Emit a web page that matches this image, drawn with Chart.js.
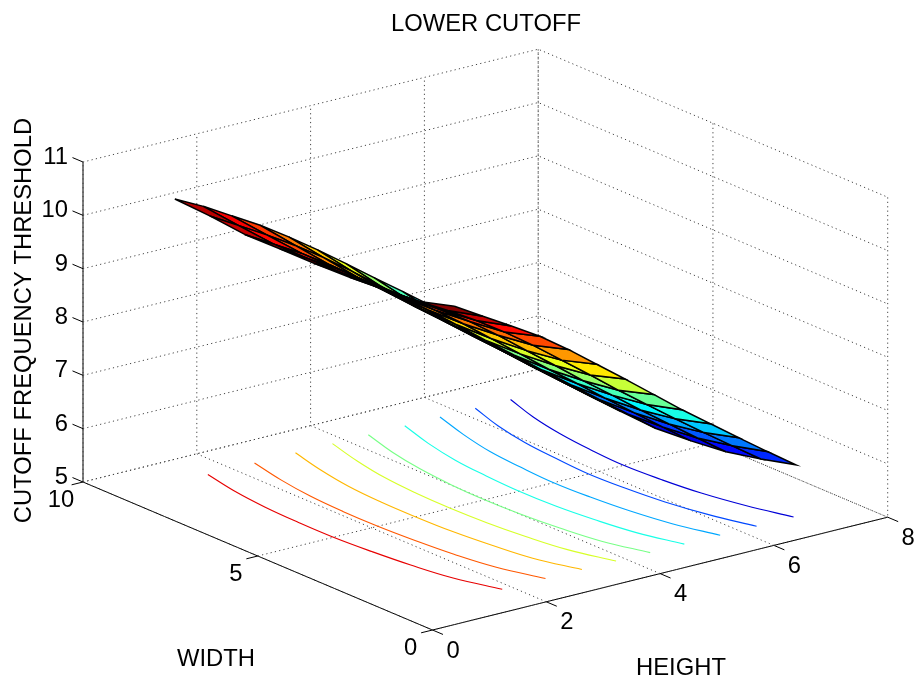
<!DOCTYPE html>
<html>
<head>
<meta charset="utf-8">
<title>LOWER CUTOFF</title>
<script src="https://cdn.jsdelivr.net/npm/chart.js@4/dist/chart.umd.min.js"></script>
<style>
  html, body { margin: 0; padding: 0; background: #fff; }
  canvas { display: block; }
</style>
</head>
<body>
<canvas id="surfaceChart" width="919" height="685"></canvas>
<script>
// surface grid
const heights = [1, 1.5, 2, 2.5, 3, 3.5, 4, 4.5, 5, 5.5, 6, 6.5, 7];
const widths = [1, 2, 3, 4, 5, 6, 7, 8, 9];
const cutoffW1 = [10.53, 10.21, 9.895, 9.57, 9.19, 8.78, 8.37, 7.95, 7.53, 7.135, 6.74, 6.35, 5.97];
const cutoffW2 = [10.34, 10.04, 9.72, 9.37, 8.99, 8.58, 8.17, 7.75, 7.35, 6.95, 6.56, 6.18, 5.80];
const cutoffW3 = [10.28, 9.97, 9.64, 9.29, 8.90, 8.48, 8.07, 7.65, 7.25, 6.84, 6.445, 6.05, 5.66];
const cutoffW4 = [10.24, 9.92, 9.60, 9.23, 8.84, 8.425, 8.01, 7.59, 7.19, 6.78, 6.38, 5.98, 5.585];
const cutoffW5 = [10.22, 9.90, 9.58, 9.21, 8.82, 8.41, 7.99, 7.58, 7.165, 6.76, 6.35, 5.945, 5.54];
const cutoffW6 = [10.22, 9.90, 9.58, 9.22, 8.84, 8.43, 8.02, 7.61, 7.20, 6.79, 6.385, 5.98, 5.58];
const cutoffW7 = [10.21, 9.90, 9.59, 9.24, 8.865, 8.47, 8.06, 7.66, 7.25, 6.85, 6.44, 6.04, 5.64];
const cutoffW8 = [10.28, 9.97, 9.66, 9.33, 8.97, 8.58, 8.17, 7.77, 7.37, 6.97, 6.56, 6.15, 5.75];
const cutoffW9 = [10.32, 10.05, 9.74, 9.43, 9.08, 8.71, 8.32, 7.92, 7.53, 7.13, 6.73, 6.32, 5.92];
const cutoff = [cutoffW1, cutoffW2, cutoffW3, cutoffW4, cutoffW5, cutoffW6, cutoffW7, cutoffW8, cutoffW9];

// contour lines on the floor: the height where each level is reached, for width 1..9
const contourLevels = [10, 9.5, 9, 8.5, 8, 7.5, 7, 6.5, 6];
const contour10 = [1.84, 1.59, 1.46, 1.38, 1.33, 1.33, 1.36, 1.44, 1.58];
const contour95 = [2.60, 2.35, 2.22, 2.15, 2.11, 2.11, 2.15, 2.25, 2.40];
const contour90 = [3.24, 2.99, 2.875, 2.80, 2.775, 2.78, 2.83, 2.95, 3.12];
const contour85 = [3.84, 3.60, 3.48, 3.41, 3.385, 3.40, 3.46, 3.59, 3.77];
const contour80 = [4.44, 4.20, 4.08, 4.01, 3.985, 4.01, 4.08, 4.21, 4.40];
const contour75 = [5.04, 4.81, 4.685, 4.61, 4.595, 4.63, 4.70, 4.84, 5.04];
const contour70 = [5.67, 5.44, 5.305, 5.23, 5.20, 5.24, 5.31, 5.46, 5.66];
const contour65 = [6.31, 6.08, 5.93, 5.85, 5.815, 5.86, 5.93, 6.07, 6.28];
const contour60 = [6.96, 6.73, 6.565, 6.475, 6.43, 6.47, 6.55, 6.69, 6.90];
const contours = [contour10, contour95, contour90, contour85, contour80, contour75, contour70, contour65, contour60];

// tick labels
const heightTicks = [0, 2, 4, 6, 8];
const widthTicks = [0, 5, 10];
const cutoffTicks = [5, 6, 7, 8, 9, 10, 11];

const HMAX = 8, WMAX = 10, ZMIN = 5, ZMAX = 11;
const FONT = '"Liberation Sans", Arial, sans-serif';

// fixed 3d view of the box, gives the coordinates for the hidden x/y scales
function project(h, w, z) {
    return {
        x: 432.5 + h * 56.9 - w * 34.95,
        y: 630 - h * 14.1 - w * 14.8 - (z - ZMIN) * 53.33
    };
}
function depth(h, w, z) {
    return -0.0721 * h - 0.0749 * w + 0.032 * (z - ZMIN);
}

// matlab jet, 64 steps
const cMin = 5.54, cMax = 10.53;
function jet(z) {
    let t = (z - cMin) / (cMax - cMin);
    t = (Math.min(63, Math.floor(t * 64)) + 0.5) / 64;
    const c = v => Math.round(255 * Math.max(0, Math.min(1, v)));
    const r = Math.min(4 * t - 1.5, -4 * t + 4.5);
    const g = Math.min(4 * t - 0.5, -4 * t + 3.5);
    const b = Math.min(4 * t + 0.5, -4 * t + 2.5);
    return `rgb(${c(r)},${c(g)},${c(b)})`;
}

function line(points, color, dash) {
    return {
        type: 'scatter', showLine: true, data: points, borderColor: color, borderWidth: 1,
        borderDash: dash || [], pointRadius: 0, fill: false, tension: 0, order: 1000
    };
}

const datasets = [];

// dotted grid on the floor and two back walls
const DOTS = [1.2, 3.2];
const GRID = '#444';
heightTicks.forEach(h => {
    datasets.push(line([project(h, 0, ZMIN), project(h, WMAX, ZMIN), project(h, WMAX, ZMAX)], GRID, DOTS));
});
widthTicks.forEach(w => {
    datasets.push(line([project(0, w, ZMIN), project(HMAX, w, ZMIN), project(HMAX, w, ZMAX)], GRID, DOTS));
});
cutoffTicks.forEach(z => {
    datasets.push(line([project(0, WMAX, z), project(HMAX, WMAX, z), project(HMAX, 0, z)], GRID, DOTS));
});

// axes and tick marks
datasets.push(line([project(0, WMAX, ZMIN), project(0, 0, ZMIN), project(HMAX, 0, ZMIN)], '#000'));
datasets.push(line([project(0, WMAX, ZMIN), project(0, WMAX, ZMAX)], '#000'));
heightTicks.forEach(h => datasets.push(line([project(h, 0, ZMIN), project(h, -0.3, ZMIN)], '#000')));
widthTicks.forEach(w => datasets.push(line([project(0, w, ZMIN), project(-0.2, w, ZMIN)], '#000')));
cutoffTicks.forEach(z => datasets.push(line([project(0, WMAX, z), project(0, WMAX + 0.3, z)], '#000')));

// contours
contours.forEach((hs, i) => {
    const pts = hs.map((h, j) => project(h, widths[j], ZMIN));
    const d = line(pts, jet(contourLevels[i]));
    d.tension = 0.4;
    d.borderWidth = 1.15;
    d.order = 900;
    datasets.push(d);
});

// surface cells, far ones painted first
const cells = [];
for (let j = 0; j < widths.length - 1; j++) {
    for (let i = 0; i < heights.length - 1; i++) {
        const corners = [[i, j], [i + 1, j], [i + 1, j + 1], [i, j + 1], [i, j]];
        const mid = corners.slice(0, 4).reduce((s, c) => s + depth(heights[c[0]], widths[c[1]], cutoff[c[1]][c[0]]), 0) / 4;
        cells.push({
            mid: mid,
            color: jet(cutoff[j][i]),
            pts: corners.map(c => project(heights[c[0]], widths[c[1]], cutoff[c[1]][c[0]]))
        });
    }
}
cells.sort((a, b) => b.mid - a.mid); // nearest first, Chart.js paints the last dataset first
cells.forEach((c, k) => {
    datasets.push({
        type: 'scatter', showLine: true, data: c.pts, borderColor: '#000', borderWidth: 1.5,
        backgroundColor: c.color, fill: 'shape', pointRadius: 0, tension: 0, order: k
    });
});

// text goes on through the same scales
const textPlugin = {
    id: 'boxText',
    afterDraw(chart) {
        const ctx = chart.ctx;
        const sx = chart.scales.x, sy = chart.scales.y;
        const put = (text, p, dx, dy, align, rot) => {
            ctx.save();
            ctx.translate(sx.getPixelForValue(p.x) + dx, sy.getPixelForValue(p.y) + dy);
            if (rot) ctx.rotate(rot);
            ctx.font = '23.8px ' + FONT;
            ctx.fillStyle = '#000';
            ctx.textAlign = align || 'center';
            ctx.textBaseline = 'middle';
            ctx.fillText(text, 0, 0);
            ctx.restore();
        };
        heightTicks.forEach(h => put(String(h), project(h, 0, ZMIN), 20.5, 21));
        widthTicks.forEach(w => put(String(w), project(0, w, ZMIN), -22, 18.5));
        cutoffTicks.forEach(z => put(String(z), project(0, WMAX, z), -15, -4.5, 'right'));
        put('LOWER CUTOFF', { x: 486, y: 24.5 }, 0, 0);
        put('WIDTH', { x: 216, y: 659.5 }, 0, 0);
        put('HEIGHT', { x: 681, y: 668.5 }, 0, 0);
        put('CUTOFF FREQUENCY THRESHOLD', { x: 24, y: 320.5 }, 0, 0, 'center', -Math.PI / 2);
    }
};

new Chart(document.getElementById('surfaceChart').getContext('2d'), {
    type: 'scatter',
    data: { datasets: datasets },
    options: {
        responsive: false,
        animation: false,
        layout: { padding: 0 },
        plugins: { legend: { display: false }, title: { display: false }, tooltip: { enabled: false } },
        scales: {
            x: { type: 'linear', min: 0, max: 919, display: false },
            y: { type: 'linear', min: 0, max: 685, reverse: true, display: false }
        }
    },
    plugins: [textPlugin]
});
</script>
</body>
</html>
